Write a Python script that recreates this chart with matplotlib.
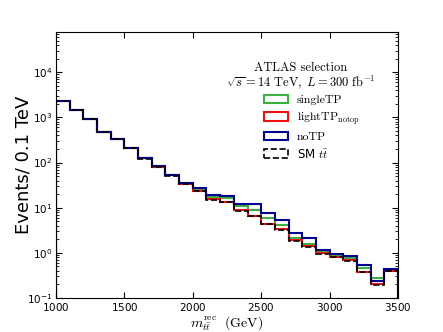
import numpy as np
import matplotlib
matplotlib.use("Agg")
import matplotlib.pyplot as plt

plt.rcParams['mathtext.fontset'] = 'cm'
plt.rcParams['axes.formatter.use_mathtext'] = True

edges = np.arange(1000, 3501, 100)

noTP = [2313, 1465, 912, 479, 340, 215, 126, 82, 54, 35.8, 27.3, 18.8, 18.5, 12.3, 11.9,
        7.8, 5.27, 2.78, 2.08, 1.15, 0.955, 0.863, 0.535, 0.234, 0.446]
singleTP = [2300, 1460, 910, 478, 339, 214, 125, 81, 53, 35, 25.5, 17.0, 16.1, 10.7, 8.8,
            5.96, 4.24, 2.15, 1.61, 1.06, 0.877, 0.752, 0.453, 0.272, 0.42]
lightTP = [2290, 1455, 905, 476, 337, 212, 124, 80, 52, 34, 23.8, 15.3, 13.6, 9.08, 6.7,
           4.46, 3.4, 1.88, 1.44, 0.97, 0.804, 0.679, 0.375, 0.200, 0.40]
SM = [2285, 1450, 903, 475, 336, 211, 123, 79.5, 51.5, 33.5, 23.3, 15.1, 13.2, 8.5, 6.46,
      4.3, 3.29, 1.81, 1.38, 0.935, 0.79, 0.67, 0.37, 0.197, 0.395]

fig = plt.figure(figsize=(4.43, 3.32), dpi=100)
ax = fig.add_axes([0.1264, 0.1024, 0.772, 0.8012])

centers = 0.5 * (edges[:-1] + edges[1:])
ax.hist(centers, bins=edges, weights=singleTP, histtype='step', color='#3cb043', lw=1.5,
        label='singleTP')
ax.hist(centers, bins=edges, weights=lightTP, histtype='step', color='#ee1111', lw=1.5,
        label=r'lightTP$_{\rm notop}$')
ax.hist(centers, bins=edges, weights=noTP, histtype='step', color='#000090', lw=1.5,
        label='noTP')
ax.hist(centers, bins=edges, weights=SM, histtype='step', color='black', lw=1.2, ls='--',
        label=r'SM $t\bar{t}$')

ax.set_yscale('log')
ax.set_xlim(1000, 3500)
ax.set_ylim(0.1, 7.8e4)
ax.set_xticks([1000, 1500, 2000, 2500, 3000, 3500])
ax.tick_params(which='both', direction='in', top=True, right=True, labelsize=7.5, pad=2.5)
ax.tick_params(which='major', length=4)
ax.tick_params(which='minor', length=2)

ax.set_xlabel(r'$m_{t\bar{t}}^{\rm rec}\ \ ({\rm GeV})$', fontsize=10, labelpad=1)
ax.set_ylabel('Events/ 0.1 TeV', fontsize=13, labelpad=-4)

ax.text(0.716, 0.866, 'ATLAS selection', transform=ax.transAxes, ha='center', va='center',
        fontsize=9, family='cmr10')
ax.text(0.716, 0.81, r'$\sqrt{s}=14\ {\rm TeV},\ L=300\ {\rm fb}^{-1}$', transform=ax.transAxes,
        ha='center', va='center', fontsize=9)

leg = ax.legend(loc='upper left', bbox_to_anchor=(0.608, 0.765), frameon=False,
                fontsize=8.5, borderaxespad=0, borderpad=0, labelspacing=0.45,
                handlelength=2.0, handletextpad=0.8)
for t in leg.get_texts()[:3]:
    t.set_family('cmr10')

fig.savefig('out.png', dpi=100)
